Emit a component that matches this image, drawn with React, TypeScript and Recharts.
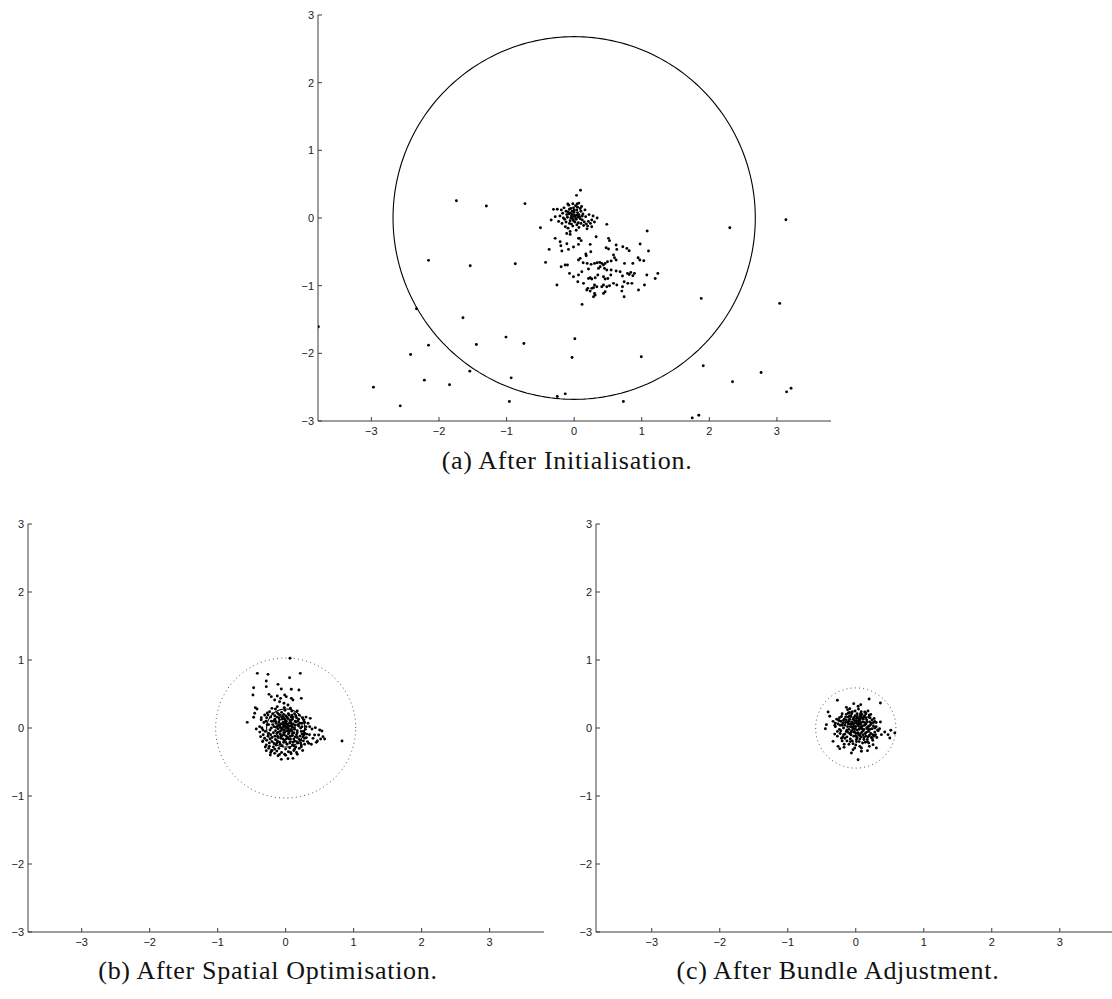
import React from 'react';
import { ScatterChart, Scatter, XAxis, YAxis } from 'recharts';

// ---- tick values shared by all three panels ----
const X_TICKS = [-3, -2, -1, 0, 1, 2, 3];
const Y_TICKS = [-3, -2, -1, 0, 1, 2, 3];

// ---- (a) After Initialisation: isolated points ----
const initOutliers: number[][] = [
  [-1.742, 0.256], [-1.299, 0.178], [-0.728, 0.212], [-0.499, -0.143], [-2.155, -0.626],
  [-1.538, -0.705], [-0.871, -0.676], [-0.423, -0.656], [-3.785, -1.607], [-2.333, -1.341],
  [-1.645, -1.474], [-1.009, -1.76], [-0.744, -1.854], [-1.447, -1.869], [-2.155, -1.879],
  [-2.42, -2.017], [0.01, -1.785], [-0.031, -2.061], [0.993, -2.051], [-2.216, -2.396],
  [-1.844, -2.465], [-1.544, -2.263], [-0.932, -2.362], [-2.97, -2.5], [-2.573, -2.776],
  [-0.958, -2.712], [-0.25, -2.638], [-0.132, -2.599], [0.728, -2.712], [1.747, -2.954],
  [1.844, -2.914], [1.88, -1.188], [1.91, -2.184], [2.343, -2.421], [2.766, -2.283],
  [3.143, -2.569], [3.209, -2.515], [3.041, -1.262], [3.133, -0.025], [2.303, -0.143],
  [1.08, -0.192], [0.117, -1.277], [-0.255, -0.991],
];

// ---- (a) tight group near the origin ----
const initCore: number[][] = [
  [-0.02, 0.02], [0.0, 0.05], [-0.05, 0.0], [0.03, -0.02], [-0.08, 0.06], [0.05, 0.08], [-0.03, 0.1],
  [0.01, -0.06], [-0.06, -0.04], [0.08, 0.02], [-0.1, 0.01], [0.04, 0.12], [-0.01, 0.15], [-0.12, 0.1],
  [0.1, 0.1], [-0.07, 0.13], [0.06, -0.07], [-0.04, -0.09], [0.12, -0.03], [-0.14, -0.02], [0.02, 0.0],
  [-0.03, 0.06], [0.07, 0.05], [-0.09, 0.09], [0.0, 0.09], [-0.05, 0.14], [0.09, 0.14], [-0.11, 0.05],
  [0.13, 0.06], [0.02, 0.18], [-0.07, -0.08], [0.04, -0.1], [0.1, -0.08], [0.15, -0.06], [0.18, -0.09],
  [0.21, -0.05], [0.24, -0.08], [0.2, -0.12], [0.14, -0.11], [0.26, -0.03], [0.3, -0.06], [0.28, 0.03],
  [0.22, 0.05], [0.17, 0.02], [-0.17, 0.07], [-0.19, 0.12], [-0.15, 0.15], [-0.21, 0.03], [-0.23, -0.05],
  [-0.18, -0.08], [-0.13, -0.13], [-0.09, -0.15], [-0.02, -0.12], [0.07, -0.14], [0.03, -0.18],
  [-0.06, -0.2], [-0.11, -0.23], [0.05, 0.16], [0.11, 0.17], [0.16, 0.12], [-0.02, 0.21], [-0.08, 0.19],
  [0.07, 0.22], [-0.25, 0.13], [-0.28, 0.02], [0.34, 0.0], [0.26, -0.13], [0.19, -0.16], [-0.01, -0.04],
  [-0.04, 0.03], [0.01, 0.03], [0.04, 0.04], [-0.06, 0.07], [0.06, 0.01], [-0.02, -0.02], [0.09, -0.01],
  [-0.12, -0.06], [0.12, 0.03], [-0.16, 0.0], [0.0, 0.12], [0.094, 0.409], [0.035, 0.335],
  [-0.306, 0.128], [-0.094, 0.207], [0.044, 0.207], [-0.34, -0.03], [-0.059, -0.242], [0.064, -0.301],
];

// ---- (a) looser group below and to the right ----
const initSpread: number[][] = [
  [0.483, -0.094], [0.325, -0.276], [-0.281, -0.301], [-0.37, -0.464], [-0.207, -0.35], [-0.197, -0.409],
  [-0.108, -0.38], [-0.084, -0.464], [-0.182, -0.488], [-0.01, -0.429], [0.064, -0.39], [0.104, -0.335],
  [0.079, -0.301], [0.237, -0.39], [0.246, -0.498], [0.173, -0.533], [0.178, -0.557], [0.508, -0.301],
  [0.523, -0.335], [0.473, -0.439], [0.508, -0.459], [0.621, -0.399], [0.631, -0.464], [0.72, -0.424],
  [0.779, -0.449], [0.814, -0.483], [0.976, -0.385], [1.1, -0.488], [0.582, -0.547], [0.597, -0.587],
  [0.621, -0.621], [0.547, -0.636], [0.745, -0.671], [0.868, -0.671], [0.946, -0.587], [0.971, -0.621],
  [1.03, -0.631], [0.064, -0.621], [0.089, -0.597], [0.133, -0.661], [0.192, -0.671], [0.251, -0.685],
  [0.301, -0.671], [0.34, -0.661], [0.379, -0.656], [0.409, -0.671], [0.434, -0.695], [0.458, -0.671],
  [0.493, -0.646], [0.36, -0.745], [0.385, -0.72], [0.449, -0.745], [0.483, -0.769], [0.547, -0.769],
  [0.621, -0.784], [0.68, -0.794], [0.212, -0.754], [-0.133, -0.695], [-0.099, -0.695], [-0.192, -0.72],
  [-0.069, -0.819], [-0.01, -0.868], [0.064, -0.843], [0.113, -0.794], [0.212, -0.893], [0.237, -0.883],
  [0.261, -0.902], [0.311, -0.883], [0.35, -0.843], [0.434, -0.868], [0.458, -0.902], [0.498, -0.893],
  [0.542, -0.843], [0.715, -0.858], [0.789, -0.819], [0.814, -0.834], [0.838, -0.804], [0.868, -0.853],
  [0.892, -0.819], [1.075, -0.843], [1.238, -0.819], [1.199, -0.893], [1.04, -0.991], [0.952, -1.065],
  [0.854, -0.966], [0.794, -0.966], [0.74, -0.942], [0.715, -1.016], [0.631, -0.991], [0.739, -1.164],
  [0.705, -1.08], [0.582, -0.966], [0.523, -1.001], [0.483, -1.016], [0.434, -0.991], [0.409, -1.016],
  [0.458, -1.09], [0.434, -1.114], [0.335, -1.016], [0.301, -0.991], [0.286, -1.03], [0.261, -1.04],
  [0.202, -1.04], [0.187, -1.065], [0.237, -1.08], [0.301, -1.114], [0.286, -1.164], [0.311, -1.139],
  [0.054, -0.942], [0.138, -0.966],
];

// ---- (b) After Spatial Optimisation ----
const spatialPoints: number[][] = [
  [-0.417, 0.804], [-0.26, 0.789], [0.215, 0.804], [0.058, 0.74], [-0.285, 0.691], [-0.113, 0.642],
  [-0.285, 0.608], [-0.471, 0.593], [-0.064, 0.574], [0.083, 0.569], [0.195, 0.559], [-0.481, 0.485],
  [-0.245, 0.495], [-0.211, 0.461], [-0.123, 0.471], [-0.074, 0.436], [-0.015, 0.485], [0.009, 0.461],
  [0.083, 0.436], [0.107, 0.412], [0.23, 0.436], [-0.162, 0.412], [-0.089, 0.387], [-0.025, 0.363],
  [0.034, 0.338], [-0.447, 0.299], [-0.422, 0.279], [-0.456, 0.216], [-0.471, 0.157], [-0.358, 0.152],
  [-0.565, 0.083], [-0.309, 0.191], [-0.236, 0.24], [-0.202, 0.289], [-0.123, 0.314], [0.362, 0.142],
  [-0.383, 0.02], [-0.334, -0.029], [-0.432, -0.015], [0.353, 0.02], [0.387, -0.015], [0.436, 0.005],
  [0.5, -0.029], [0.534, -0.044], [0.485, -0.103], [0.549, -0.127], [0.573, -0.162], [0.515, -0.162],
  [0.426, -0.103], [0.402, -0.152], [0.466, -0.191], [0.338, -0.225], [0.377, -0.24], [0.451, -0.211],
  [0.829, -0.191], [0.279, -0.078], [0.304, -0.142], [0.255, -0.127], [0.064, 1.025],
  [-0.285, -0.25], [-0.25, -0.299], [-0.211, -0.333], [-0.162, -0.373], [-0.113, -0.407], [-0.064, -0.461],
  [0.034, -0.451], [0.107, -0.446], [0.171, -0.387], [-0.285, -0.333], [-0.226, -0.397], [-0.015, -0.387],
  [0.073, -0.358], [0.132, -0.309], [0.23, -0.275], [0.279, -0.24], [-0.334, -0.191], [-0.368, -0.127],
  [0.0, 0.0], [-0.03, 0.02], [0.04, -0.01], [-0.06, -0.03], [0.02, 0.05], [-0.01, -0.06], [0.07, 0.03],
  [-0.09, 0.04], [0.05, -0.07], [-0.04, 0.08], [0.09, -0.04], [-0.11, -0.01], [0.01, 0.1], [-0.02, -0.1],
  [0.11, 0.06], [-0.08, -0.09], [0.13, -0.02], [-0.14, 0.07], [0.06, 0.12], [-0.05, 0.13], [0.1, -0.11],
  [-0.12, -0.12], [0.15, 0.09], [-0.17, 0.02], [0.03, -0.14], [-0.07, -0.15], [0.17, -0.07], [-0.18, -0.07],
  [0.08, 0.16], [-0.1, 0.15], [0.19, 0.03], [-0.21, 0.1], [0.0, 0.18], [-0.02, -0.18], [0.12, -0.16],
  [-0.15, -0.17], [0.21, -0.12], [-0.23, -0.03], [0.16, 0.15], [-0.16, 0.18], [0.04, 0.21], [0.24, 0.07],
  [-0.25, 0.05], [0.07, -0.2], [-0.09, -0.21], [0.22, -0.18], [-0.2, -0.2], [0.18, -0.22], [-0.26, -0.12],
  [0.26, -0.05], [0.13, 0.21], [-0.12, 0.22], [0.02, -0.24], [-0.05, -0.26], [0.1, -0.25], [-0.14, -0.25],
  [0.27, 0.12], [-0.28, 0.15], [0.2, 0.19], [-0.06, 0.23], [0.28, -0.15], [-0.24, -0.22], [0.15, -0.28],
  [-0.18, -0.28], [0.06, -0.29], [-0.1, -0.3], [0.0, -0.31], [0.3, 0.02], [-0.3, -0.05], [0.09, 0.25],
  [-0.01, 0.26], [0.23, -0.25], [-0.27, 0.22], [0.31, -0.09], [0.01, 0.02], [-0.02, -0.03], [0.03, 0.01],
  [-0.04, 0.05], [0.05, 0.03], [-0.06, 0.0], [0.02, -0.04], [-0.03, -0.07], [0.06, -0.04], [-0.07, 0.06],
  [0.08, 0.07], [-0.08, -0.05], [0.0, 0.07], [0.04, -0.09], [-0.1, 0.09], [0.1, 0.01], [-0.12, 0.03],
  [0.12, -0.07], [-0.01, 0.12], [-0.05, -0.11], [0.07, -0.12], [-0.13, -0.08], [0.14, 0.04], [-0.09, 0.12],
  [0.03, 0.14], [-0.15, -0.04], [0.16, -0.1], [-0.04, 0.17], [0.1, 0.13], [-0.11, -0.14], [0.05, -0.16],
  [-0.19, 0.05], [0.18, 0.1], [-0.03, -0.21], [0.13, -0.19], [-0.16, 0.13], [0.22, 0.0], [-0.22, -0.1],
  [0.09, 0.19], [-0.08, 0.19], [0.01, -0.16], [-0.18, 0.1], [0.17, -0.14], [0.11, -0.21], [-0.12, -0.19],
  [0.24, -0.09], [-0.02, 0.08], [0.06, 0.08], [-0.08, 0.01], [0.08, -0.02], [-0.28, -0.18], [-0.24, -0.27],
  [-0.2, -0.33], [-0.13, -0.34], [-0.06, -0.36], [0.04, -0.35], [0.12, -0.33], [0.2, -0.3], [-0.33, -0.1],
  [-0.35, 0.0], [-0.32, 0.08], [0.33, 0.07], [0.3, 0.16],
  [-0.27, 0.05], [-0.25, -0.08], [-0.22, 0.16], [-0.2, -0.14], [-0.19, 0.21], [-0.17, -0.23], [-0.14, 0.01],
  [-0.13, 0.16], [-0.11, -0.06], [-0.1, 0.2], [-0.07, -0.12], [-0.06, 0.16], [-0.04, -0.16], [-0.03, 0.2],
  [-0.01, 0.04], [0.01, -0.12], [0.02, 0.16], [0.04, -0.05], [0.05, 0.19], [0.07, -0.16], [0.08, 0.11],
  [0.1, -0.08], [0.11, 0.16], [0.13, 0.0], [0.14, -0.13], [0.15, 0.18], [0.17, -0.04], [0.19, 0.13],
  [0.2, -0.17], [0.21, 0.07], [0.23, -0.05], [0.25, 0.15], [0.26, -0.19], [0.28, 0.08], [0.29, -0.02],
  [-0.29, 0.1], [-0.31, -0.15], [-0.26, 0.19], [-0.23, -0.16], [-0.21, 0.0], [-0.16, -0.12], [-0.15, 0.1],
  [-0.13, -0.22], [-0.1, 0.05], [-0.08, -0.24], [-0.05, -0.01], [-0.02, 0.14], [0.0, -0.21], [0.03, 0.06],
  [0.06, -0.22], [0.09, 0.04], [0.12, -0.26], [0.14, 0.1], [0.16, -0.2], [0.18, 0.05], [0.22, -0.22],
  [0.24, 0.02], [0.27, -0.1], [-0.34, -0.2], [-0.3, -0.28], [-0.22, -0.36], [-0.16, -0.31], [-0.09, -0.39],
  [0.0, -0.4], [0.08, -0.38], [0.16, -0.36], [0.25, -0.33], [-0.36, 0.12], [0.32, -0.2], [0.35, -0.1],
  [-0.38, -0.06], [-0.02, 0.3], [0.07, 0.29], [-0.15, 0.28], [0.17, 0.25],
];

// ---- (c) After Bundle Adjustment ----
const bundlePoints: number[][] = [
  [-0.27, 0.407], [-0.03, 0.358], [0.073, 0.343], [0.034, 0.319], [0.196, 0.426], [0.362, 0.368],
  [-0.138, 0.304], [-0.089, 0.284], [0.132, 0.235], [-0.407, 0.235], [-0.383, 0.172], [-0.432, 0.049],
  [-0.447, -0.01], [-0.334, 0.098], [-0.309, 0.039], [0.362, 0.088], [0.279, 0.098], [0.426, -0.059],
  [0.475, -0.098], [0.515, -0.034], [0.574, -0.074], [0.5, -0.147], [0.377, -0.098], [-0.334, -0.196],
  [-0.26, -0.27], [-0.236, -0.304], [-0.172, -0.284], [-0.064, -0.368], [-0.04, -0.319], [-0.015, -0.294],
  [0.083, -0.343], [0.172, -0.333], [0.083, -0.294], [0.034, -0.466], [0.303, -0.294], [0.254, -0.245],
  [0.03, 0.05], [0.0, 0.02], [0.06, 0.0], [-0.03, 0.07], [0.08, 0.08], [-0.05, 0.01], [0.02, -0.03],
  [0.1, 0.03], [-0.08, 0.06], [0.05, 0.11], [-0.02, -0.05], [0.12, -0.02], [-0.1, 0.1], [0.01, 0.14],
  [0.09, -0.06], [-0.06, -0.04], [0.15, 0.06], [-0.12, 0.02], [0.07, 0.15], [-0.04, 0.13], [0.14, -0.08],
  [-0.09, -0.08], [0.18, 0.02], [-0.15, 0.08], [0.11, 0.13], [-0.01, 0.18], [0.04, -0.1], [-0.13, -0.03],
  [0.19, -0.05], [-0.17, 0.13], [0.16, 0.12], [-0.07, 0.17], [0.08, -0.13], [-0.03, -0.12], [0.22, 0.05],
  [-0.2, 0.04], [0.13, 0.18], [-0.11, 0.16], [0.2, -0.11], [-0.16, -0.09], [0.24, -0.01], [-0.22, 0.1],
  [0.02, 0.21], [0.09, 0.2], [-0.06, 0.21], [0.12, -0.17], [-0.08, -0.16], [0.01, -0.17], [0.26, 0.08],
  [-0.24, -0.02], [0.17, -0.17], [-0.19, -0.13], [0.05, -0.2], [-0.13, -0.19], [0.28, -0.06], [-0.26, 0.06],
  [0.21, 0.15], [-0.21, 0.17], [0.15, 0.21], [-0.14, 0.2], [0.23, -0.14], [-0.23, -0.08], [0.1, -0.22],
  [-0.04, -0.23], [0.3, 0.02], [-0.28, 0.13], [0.27, -0.12], [-0.1, -0.24], [0.19, -0.22], [0.0, -0.25],
  [0.04, 0.03], [0.01, 0.07], [0.07, 0.05], [-0.02, 0.03], [0.05, -0.02], [-0.04, -0.01], [0.1, 0.09],
  [-0.06, 0.09], [0.03, 0.1], [0.08, 0.01], [-0.01, -0.01], [0.11, -0.04], [-0.08, 0.02], [0.06, 0.12],
  [-0.03, 0.15], [0.13, 0.08], [-0.11, 0.06], [0.0, -0.08], [0.07, -0.08], [-0.07, -0.06], [0.16, 0.0],
  [-0.14, 0.12], [0.12, 0.16], [-0.09, 0.13], [0.15, -0.12], [-0.12, -0.06], [0.02, -0.14], [-0.05, -0.19],
  [0.21, 0.09], [-0.18, 0.0], [0.06, 0.18], [0.18, -0.02], [0.24, 0.12], [-0.19, 0.07], [0.14, -0.21],
  [-0.16, -0.15], [0.32, -0.03], [-0.3, 0.02], [0.25, -0.18], [-0.2, -0.19], [0.08, 0.24], [-0.09, 0.23],
  [0.29, -0.1], [0.22, -0.08], [0.33, -0.04], [0.35, -0.01], [0.2, 0.19], [-0.24, 0.15], [-0.27, -0.05],
  [0.26, 0.03],
  [-0.25, 0.11], [-0.22, -0.04], [-0.2, 0.21], [-0.18, -0.1], [-0.16, 0.04], [-0.15, 0.16], [-0.13, -0.13],
  [-0.12, 0.09], [-0.1, -0.02], [-0.09, 0.18], [-0.07, -0.1], [-0.06, 0.05], [-0.05, 0.24], [-0.03, -0.06],
  [-0.02, 0.11], [0.0, -0.12], [0.0, 0.1], [0.02, 0.17], [0.03, -0.07], [0.05, 0.07], [0.06, -0.16],
  [0.07, 0.21], [0.09, -0.01], [0.1, 0.14], [0.11, -0.1], [0.13, 0.04], [0.14, 0.23], [0.16, -0.06],
  [0.17, 0.09], [0.18, -0.13], [0.19, 0.16], [0.21, -0.02], [0.23, 0.07], [0.25, -0.1], [0.27, 0.14],
  [0.28, 0.0], [-0.27, -0.12], [-0.23, 0.04], [-0.21, -0.15], [-0.18, 0.11], [-0.14, -0.05], [-0.11, 0.22],
  [-0.08, -0.2], [-0.04, 0.06], [-0.01, 0.25], [0.01, -0.2], [0.04, 0.14], [0.06, -0.11], [0.08, 0.17],
  [0.12, -0.14], [0.15, 0.15], [0.17, -0.2], [0.2, 0.03], [0.22, 0.2], [0.24, -0.15], [0.3, 0.08],
  [0.31, -0.14], [-0.3, 0.07], [-0.31, -0.09], [-0.12, 0.27], [0.04, 0.28], [0.18, 0.25], [-0.17, -0.24],
  [0.06, -0.27], [0.2, -0.27],
];

// ---- reference circles: [centre x, centre y, radius] ----
const initCircle = [0, 0, 2.68];
const spatialOuterCircle = [0, 0, 1.03];
const spatialInnerCircle = [0, 0, 0.28];
const bundleOuterCircle = [0, 0, 0.59];

const AXIS = '#3c3c3c';
const TICK_LEN = 4;
const GAP = 4;
const LABEL_FONT = '"Liberation Sans", Arial, sans-serif';

const toXY = (pts: number[][]) => pts.map(([x, y]) => ({ x, y }));

// outline of a circle traced in data space so it follows the axis scales
const outline = ([cx, cy, r]: number[]) => {
  const steps = 240;
  const out: { x: number; y: number }[] = [];
  for (let i = 0; i <= steps; i++) {
    const t = (i / steps) * Math.PI * 2;
    out.push({ x: cx + r * Math.cos(t), y: cy + r * Math.sin(t) });
  }
  return out;
};

const fmt = (v: number) => (v < 0 ? '\u2212' + Math.abs(v) : String(v));

const XTick = (props: any) => {
  const { x, y, payload } = props;
  const axisY = y - GAP;
  return (
    <g>
      <line x1={x} x2={x} y1={axisY} y2={axisY - TICK_LEN} stroke={AXIS} strokeWidth={1} />
      <text x={x} y={axisY + 14} textAnchor="middle" fontSize={11} fill="#222" fontFamily={LABEL_FONT}>
        {fmt(payload.value)}
      </text>
    </g>
  );
};

const YTick = (props: any) => {
  const { x, y, payload } = props;
  const axisX = x + GAP;
  return (
    <g>
      <line x1={axisX} x2={axisX + TICK_LEN} y1={y} y2={y} stroke={AXIS} strokeWidth={1} />
      <text x={axisX - 4} y={y + 4} textAnchor="end" fontSize={11} fill="#222" fontFamily={LABEL_FONT}>
        {fmt(payload.value)}
      </text>
    </g>
  );
};

const Dot = (p: any) => <circle cx={p.cx} cy={p.cy} r={1.45} fill="#000" />;
const NoDot = () => <g />;

type PanelProps = {
  width: number;
  height: number;
  margin: { top: number; right: number; bottom: number; left: number };
  yWidth: number;
  xDomain: number[];
  children: React.ReactNode;
};

const Panel = ({ width, height, margin, yWidth, xDomain, children }: PanelProps) => (
  <ScatterChart width={width} height={height} margin={margin}>
    <XAxis
      type="number"
      dataKey="x"
      domain={xDomain}
      allowDataOverflow
      ticks={X_TICKS}
      interval={0}
      tickSize={0}
      tickMargin={GAP}
      tickLine={false}
      tick={<XTick />}
      axisLine={{ stroke: AXIS, strokeWidth: 1 }}
      height={24}
    />
    <YAxis
      type="number"
      dataKey="y"
      domain={[-3, 3]}
      allowDataOverflow
      ticks={Y_TICKS}
      interval={0}
      tickSize={0}
      tickMargin={GAP}
      tickLine={false}
      tick={<YTick />}
      axisLine={{ stroke: AXIS, strokeWidth: 1 }}
      width={yWidth}
    />
    {children}
  </ScatterChart>
);

const solid = { stroke: '#000', strokeWidth: 1.1, fill: 'none' };
const dotted = { stroke: '#555', strokeWidth: 1, strokeDasharray: '1 3.2', fill: 'none' };

const captionStyle: React.CSSProperties = {
  position: 'absolute',
  fontFamily: '"Liberation Serif", "DejaVu Serif", serif',
  fontSize: 26,
  letterSpacing: 0.7,
  color: '#111',
  whiteSpace: 'nowrap',
  transform: 'translateX(-50%)',
  lineHeight: '28px',
};

export default function App() {
  return (
    <div style={{ position: 'absolute', left: 0, top: 0, width: 1112, height: 999, background: '#fff', overflow: 'hidden' }}>
      <div style={{ position: 'absolute', left: 280, top: 0 }}>
        <Panel width={580} height={445} margin={{ top: 15, right: 29, bottom: 0, left: 0 }} yWidth={38} xDomain={[-3.79, 3.8]}>
          <Scatter data={outline(initCircle)} line={solid} lineType="joint" shape={NoDot} isAnimationActive={false} />
          <Scatter data={toXY(initOutliers)} shape={Dot} isAnimationActive={false} />
          <Scatter data={toXY(initCore)} shape={Dot} isAnimationActive={false} />
          <Scatter data={toXY(initSpread)} shape={Dot} isAnimationActive={false} />
        </Panel>
      </div>
      <div style={{ ...captionStyle, left: 567, top: 447 }}>(a) After Initialisation.</div>

      <div style={{ position: 'absolute', left: 0, top: 500 }}>
        <Panel width={560} height={456} margin={{ top: 24, right: 16, bottom: 0, left: 0 }} yWidth={28} xDomain={[-3.79, 3.8]}>
          <Scatter data={outline(spatialOuterCircle)} line={dotted} lineType="joint" shape={NoDot} isAnimationActive={false} />
          <Scatter data={toXY(spatialPoints)} shape={Dot} isAnimationActive={false} />
          <Scatter data={outline(spatialInnerCircle)} line={solid} lineType="joint" shape={NoDot} isAnimationActive={false} />
        </Panel>
      </div>
      <div style={{ ...captionStyle, left: 268, top: 957 }}>(b) After Spatial Optimisation.</div>

      <div style={{ position: 'absolute', left: 560, top: 500 }}>
        <Panel width={552} height={456} margin={{ top: 24, right: 0, bottom: 0, left: 0 }} yWidth={36} xDomain={[-3.82, 3.768]}>
          <Scatter data={outline(bundleOuterCircle)} line={dotted} lineType="joint" shape={NoDot} isAnimationActive={false} />
          <Scatter data={toXY(bundlePoints)} shape={Dot} isAnimationActive={false} />
        </Panel>
      </div>
      <div style={{ ...captionStyle, left: 838, top: 957 }}>(c) After Bundle Adjustment.</div>
    </div>
  );
}
